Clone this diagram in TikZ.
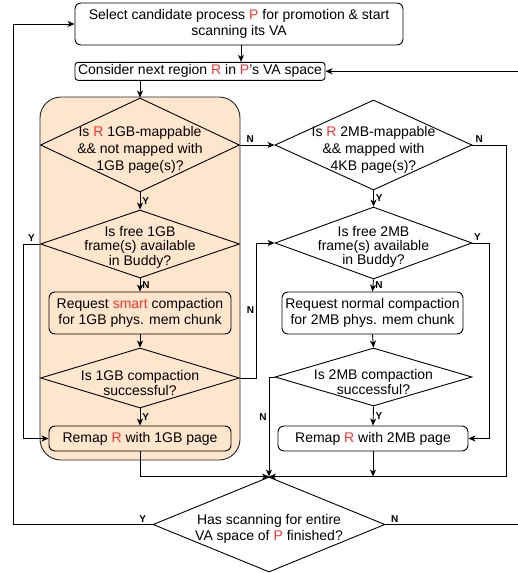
\documentclass[tikz,border=0pt]{standalone}
\usepackage{fontspec}
\setmainfont{Liberation Sans}
\usetikzlibrary{shapes.geometric,arrows.meta}

\definecolor{zoneorange}{RGB}{255,230,204}
\definecolor{hotred}{RGB}{255,51,51}

\newcommand{\redtxt}[1]{\textcolor{hotred}{#1}}

\begin{document}
\begin{tikzpicture}[
x=1pt, y=-1pt,
every node/.style={
align=center,
font=\fontsize{14}{16.7}\selectfont
},
arrow/.style={-{Stealth[length=7pt,width=6pt,inset=2pt]}, line width=0.9pt}
]

\clip (0,0) rectangle (518,573);

% =====================================================
% Styles
% =====================================================

\tikzstyle{process} =
[rectangle, rounded corners=6pt,
draw, line width=0.9pt,
inner sep=0pt]

\tikzstyle{decision} =
[diamond, draw, line width=0.9pt,
inner sep=0pt]

\tikzstyle{zone} =
[rectangle, rounded corners=21pt,
fill=zoneorange, draw=black!85,
line width=0.9pt,
minimum width=200pt, minimum height=363pt]

\tikzstyle{qtext} =
[inner sep=0pt]

\tikzstyle{yn} =
[font=\fontsize{10}{12}\selectfont\bfseries,
inner sep=2pt]

% =====================================================
% Nodes
% =====================================================

\node (gbzone) [zone] at (140,278.5) {};

\node (select) [process, minimum width=328pt, minimum height=42pt] at (239,24)
{Select candidate process \redtxt{P} for promotion \& start\\scanning its VA};

\node (consider) [process, rounded corners=3pt, minimum width=250pt, minimum height=18pt] at (200,71.3)
{Consider next region \redtxt{R} in \redtxt{P}'s VA space};

% 1GB side
\node (q1gb) [decision, minimum width=199pt, minimum height=94pt,
label={[qtext, yshift=-5pt]center:{Is \redtxt{R} 1GB-mappable\\\&\& not mapped with\\1GB page(s)?}}] at (140,145) {};

\node (free1gb) [decision, minimum width=199pt, minimum height=68pt,
label={[qtext, yshift=-3pt, font=\fontsize{14}{14.5}\selectfont]center:{Is free 1GB\\frame(s) available\\in Buddy?}}] at (140,244) {};

\node (smart) [process, minimum width=182pt, minimum height=42pt] at (140,313)
{Request \redtxt{smart} compaction\\for 1GB phys. mem chunk};

\node (ok1gb) [decision, minimum width=199pt, minimum height=60pt,
label={[qtext, yshift=-5pt, font=\fontsize{14}{13}\selectfont]center:{Is 1GB compaction\\successful?}}] at (140,378) {};

\node (remap1gb) [process, minimum width=182pt, minimum height=25pt] at (140,438.5)
{Remap \redtxt{R} with 1GB page};

% 2MB side
\node (q2mb) [decision, minimum width=197pt, minimum height=90pt,
label={[qtext, yshift=-5pt]center:{Is \redtxt{R} 2MB-mappable\\\&\& mapped with\\4KB page(s)?}}] at (373.5,145) {};

\node (free2mb) [decision, minimum width=197pt, minimum height=72pt,
label={[qtext, yshift=-3.5pt, font=\fontsize{14}{14}\selectfont]center:{Is free 2MB\\frame(s) available\\in Buddy?}}] at (373.5,243) {};

\node (normal) [process, minimum width=181pt, minimum height=42pt] at (372.5,313)
{Request normal compaction\\for 2MB phys. mem chunk};

\node (ok2mb) [decision, minimum width=197pt, minimum height=58pt,
label={[qtext, yshift=-5pt, font=\fontsize{14}{12.5}\selectfont]center:{Is 2MB compaction\\successful?}}] at (373.5,377) {};

\node (remap2mb) [process, minimum width=190pt, minimum height=25pt] at (373,438.5)
{Remap \redtxt{R} with 2MB page};

% end check
\node (done) [decision, minimum width=232pt, minimum height=95pt,
label={[qtext, yshift=-4.5pt, font=\fontsize{14}{16}\selectfont]center:{Has scanning for entire\\VA space of \redtxt{P} finished?}}] at (269,524.5) {};

% =====================================================
% Arrows
% =====================================================

\draw [arrow] (select.south -| 241,0) -- (consider.north -| 241,0);

\draw [arrow] (consider.south -| q1gb.north) -- (q1gb.north);

\draw [arrow] (q1gb.east) -- node[yn, above, pos=0.3] {N} (q2mb.west);

\draw [arrow] (q1gb.south) -- node[yn, right] {Y} (free1gb.north);

\draw [arrow] (free1gb.south) -- node[yn, right] {N} (smart.north);

\draw [arrow] (free1gb.west) -- node[yn, above, pos=0.5] {Y} ++(-17,0) |- (remap1gb.west);

\draw [arrow] (smart.south) -- (ok1gb.north);

\draw [arrow] (ok1gb.south) -- node[yn, right] {Y} (remap1gb.north);

\draw [arrow] (ok1gb.east) -- ++(16.5,0) |- node[yn, left, pos=0.25] {N} (free2mb.west);

\draw [arrow] (q2mb.south) -- node[yn, right] {Y} (free2mb.north);

\draw [arrow] (free2mb.south) -- node[yn, right] {N} (normal.north);

\draw [arrow] (free2mb.east) -- node[yn, above, pos=0.3] {Y} ++(16.5,0) |- (remap2mb.east);

\draw [arrow] (normal.south) -- (ok2mb.north);

\draw [arrow] (ok2mb.south) -- node[yn, right] {Y} (remap2mb.north);

\draw [arrow] (ok2mb.west) -| node[yn, left, pos=0.7] {N} (done.north);

\draw [arrow] (q2mb.east) -- node[yn, above, pos=0.2] {N} ++(34,0) |- (done.north);

\draw [arrow] (remap1gb.south) |- (done.north);

\draw [arrow] (remap2mb.south) -- (remap2mb.south |- done.north);

\draw [arrow] (done.west) -- node[yn, above, pos=0.07] {Y} ++(-139,0) |- (select.west);

\draw [arrow] (done.east) -- node[yn, above, pos=0.07] {N} ++(134,0) |- (consider.east);

\end{tikzpicture}
\end{document}
